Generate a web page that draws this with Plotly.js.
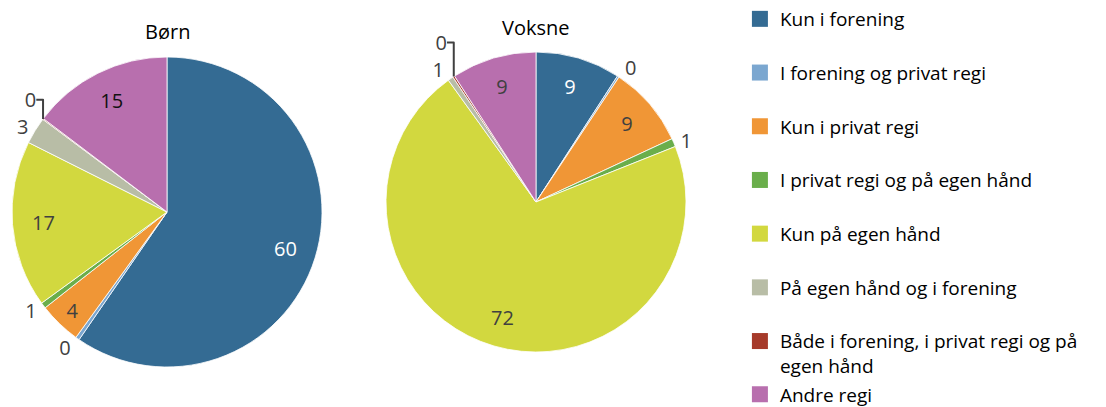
<!DOCTYPE html>
<html>
<head>
<meta charset="utf-8">
<script src="https://cdn.plot.ly/plotly-3.0.1.min.js"></script>
<style>html,body{margin:0;padding:0;background:#fff}#chart{width:1106px;height:407px}</style>
</head>
<body>
<div id="chart"></div>
<script>
const categories = [
  "Kun i forening",
  "I forening og privat regi",
  "Kun i privat regi",
  "I privat regi og på egen hånd",
  "Kun på egen hånd",
  "På egen hånd og i forening",
  "Både i forening, i privat regi og på<br>egen hånd",
  "Andre regi"
];
const bornValues   = [59.6, 0.4, 4.4, 0.6, 17.4, 2.8, 0.1, 14.7];
const voksneValues = [9.2, 0.2, 8.8, 0.9, 71.6, 0.6, 0.2, 9.2];
const pieTitles = ["Børn", "Voksne"];

const colors = ["#346b93", "#7ba7d0", "#f09636", "#6aae4b", "#d2d83f", "#b8bda6", "#a63a2a", "#b86fae"];
const font = "'Open Sans', sans-serif";
const dark = "#404040";
const positions = ["inside", "outside", "inside", "outside", "inside", "outside", "outside", "inside"];

// base pie: coloured slices, no text
function basePie(values, domain) {
  return {
    type: "pie", labels: categories, values: values, sort: false,
    direction: "clockwise", rotation: 0, domain: domain,
    marker: {colors: colors, line: {color: "#ffffff", width: 0.8}},
    textinfo: "none",
    hoverinfo: "label+value", showlegend: false
  };
}
// label layer: transparent ring so inside labels sit near the rim
function labelPie(values, domain, insideColors) {
  return {
    type: "pie", labels: categories, values: values, sort: false,
    direction: "clockwise", rotation: 0, domain: domain, hole: 0.6,
    marker: {colors: categories.map(function () { return "rgba(0,0,0,0)"; }), line: {width: 0}},
    texttemplate: "%{value:.0f}", textposition: positions,
    insidetextorientation: "horizontal",
    insidetextfont: {family: font, size: 20, color: insideColors},
    outsidetextfont: {family: font, size: 20, color: dark},
    hoverinfo: "skip", showlegend: false
  };
}

const bornDomain = {x: [0.01085, 0.29114], y: [0.09828, 0.85995]};
const voksneDomain = {x: [0.34901, 0.62025], y: [0.13514, 0.87224]};
const bornInside = ["#ffffff", dark, dark, dark, dark, dark, dark, "#111111"];
const voksneInside = ["#ffffff", dark, dark, dark, dark, dark, dark, dark];

const traces = [
  basePie(bornValues, bornDomain),
  labelPie(bornValues, bornDomain, bornInside),
  basePie(voksneValues, voksneDomain),
  labelPie(voksneValues, voksneDomain, voksneInside)
];

categories.forEach(function (c, i) {
  traces.push({
    type: "scatter", x: [null], y: [null], mode: "markers",
    name: c, legendgroup: "g" + i,
    legend: i === categories.length - 1 ? "legend2" : "legend",
    marker: {symbol: "square", size: 16, color: colors[i]},
    showlegend: true, hoverinfo: "skip"
  });
});

const legendFont = {family: font, size: 19, color: "#000000"};
const layout = {
  width: 1106, height: 407,
  margin: {l: 0, r: 0, t: 0, b: 0, autoexpand: false},
  paper_bgcolor: "#ffffff",
  plot_bgcolor: "rgba(0,0,0,0)",
  showlegend: true,
  xaxis: {visible: false},
  yaxis: {visible: false},
  legend: {
    x: 0.669, xanchor: "left", y: 1, yanchor: "top",
    traceorder: "grouped", tracegroupgap: 26, valign: "top",
    font: legendFont, bgcolor: "rgba(0,0,0,0)"
  },
  legend2: {
    x: 0.669, xanchor: "left", y: 1 - 375.5/407, yanchor: "top",
    valign: "top", font: legendFont, bgcolor: "rgba(0,0,0,0)"
  },
  annotations: [
    {text: pieTitles[0], x: 0.151, y: 1 - 32/407, xref: "paper", yref: "paper",
     xanchor: "center", yanchor: "middle",
     showarrow: false, font: {family: font, size: 20, color: "#000"}},
    {text: pieTitles[1], x: 0.4846, y: 1 - 27/407, xref: "paper", yref: "paper",
     xanchor: "center", yanchor: "middle",
     showarrow: false, font: {family: font, size: 20, color: "#000"}}
  ]
};

Plotly.newPlot("chart", traces, layout, {displayModeBar: false, responsive: false});
</script>
</body>
</html>
